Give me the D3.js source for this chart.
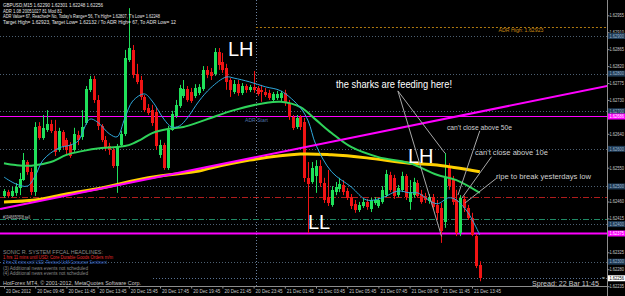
<!DOCTYPE html>
<html>
<head>
<meta charset="utf-8">
<script src="https://cdnjs.cloudflare.com/ajax/libs/d3/7.8.5/d3.min.js"></script>
<style>
body { margin: 0; background: #000; }
svg { display: block; font-family: "Liberation Sans", Arial, sans-serif; }
</style>
</head>
<body>
<div id="chart-container"></div>
<script>

// GBPUSD M15, one candle per bar index (0 = 20 Dec 07:45)
var opens = [
    1.62475,1.62485,1.62475,1.62483,1.62496,1.62517,1.62565,1.62539,1.62485,1.62661,
    1.62629,1.62650,1.62666,1.62648,1.62597,1.62645,1.62624,1.62610,1.62597,1.62637,
    1.62632,1.62669,1.62757,1.62786,1.62730,1.62661,1.62624,1.62608,1.62597,1.62555,
    1.62610,1.62640,1.62836,1.62863,1.62799,1.62783,1.62738,1.62709,1.62703,1.62698,
    1.62584,1.62610,1.62549,1.62650,1.62687,1.62714,1.62741,1.62759,1.62751,1.62741,
    1.62749,1.62759,1.62810,1.62804,1.62799,1.62858,1.62831,1.62815,1.62783,1.62751,
    1.62772,1.62749,1.62767,1.62757,1.62765,1.62762,1.62757,1.62751,1.62749,1.62730,
    1.62735,1.62735,1.62749,1.62722,1.62685,1.62658,1.62685,1.62671,1.62523,1.62512,
    1.62528,1.62555,1.62509,1.62472,1.62451,1.62485,1.62493,1.62504,1.62488,1.62472,
    1.62454,1.62438,1.62448,1.62459,1.62440,1.62456,1.62448,1.62459,1.62477,1.62531,
    1.62523,1.62477,1.62491,1.62528,1.62459,1.62477,1.62509,1.62480,1.62475,1.62462,
    1.62472,1.62451,1.62443,1.62406,1.62552,1.62517,1.62464,1.62376,1.62467,1.62443,
    1.62417,1.62368,1.62290
];
var highs = [
    1.62493,1.62491,1.62499,1.62509,1.62536,1.62589,1.62570,1.62549,1.62671,1.62671,
    1.62690,1.62703,1.62677,1.62677,1.62656,1.62650,1.62629,1.62618,1.62656,1.62648,
    1.62703,1.62767,1.62794,1.62794,1.62743,1.62666,1.62634,1.62616,1.62602,1.62613,
    1.62648,1.62863,1.62974,1.62876,1.62826,1.62794,1.62743,1.62719,1.62717,1.62709,
    1.62624,1.62616,1.62661,1.62701,1.62730,1.62770,1.62783,1.62767,1.62762,1.62772,
    1.62772,1.62820,1.62820,1.62815,1.62868,1.62868,1.62855,1.62826,1.62788,1.62783,
    1.62783,1.62775,1.62772,1.62770,1.62807,1.62767,1.62770,1.62762,1.62757,1.62751,
    1.62754,1.62754,1.62757,1.62730,1.62690,1.62690,1.62690,1.62682,1.62565,1.62565,
    1.62570,1.62570,1.62523,1.62544,1.62501,1.62512,1.62523,1.62517,1.62496,1.62480,
    1.62464,1.62459,1.62467,1.62467,1.62470,1.62472,1.62470,1.62501,1.62544,1.62539,
    1.62531,1.62504,1.62539,1.62533,1.62517,1.62523,1.62517,1.62491,1.62483,1.62480,
    1.62480,1.62464,1.62456,1.62589,1.62562,1.62528,1.62491,1.62477,1.62475,1.62451,
    1.62430,1.62374,1.62301
];
var lows = [
    1.62470,1.62472,1.62472,1.62475,1.62477,1.62515,1.62531,1.62477,1.62475,1.62624,
    1.62624,1.62645,1.62642,1.62581,1.62592,1.62600,1.62584,1.62576,1.62592,1.62610,
    1.62624,1.62664,1.62751,1.62722,1.62650,1.62618,1.62594,1.62584,1.62549,1.62483,
    1.62605,1.62634,1.62831,1.62788,1.62772,1.62730,1.62698,1.62690,1.62661,1.62597,
    1.62576,1.62544,1.62544,1.62648,1.62682,1.62709,1.62735,1.62725,1.62722,1.62735,
    1.62743,1.62754,1.62788,1.62783,1.62794,1.62810,1.62802,1.62757,1.62738,1.62746,
    1.62741,1.62743,1.62749,1.62751,1.62749,1.62741,1.62725,1.62738,1.62730,1.62725,
    1.62730,1.62727,1.62714,1.62677,1.62650,1.62653,1.62650,1.62512,1.62376,1.62507,
    1.62483,1.62499,1.62456,1.62448,1.62446,1.62477,1.62485,1.62477,1.62464,1.62440,
    1.62430,1.62432,1.62443,1.62438,1.62432,1.62451,1.62443,1.62454,1.62472,1.62485,
    1.62467,1.62472,1.62485,1.62464,1.62438,1.62470,1.62470,1.62454,1.62456,1.62454,
    1.62438,1.62411,1.62350,1.62390,1.62491,1.62451,1.62368,1.62368,1.62432,1.62411,
    1.62368,1.62283,1.62248
];
var closes = [
    1.62488,1.62475,1.62488,1.62499,1.62520,1.62570,1.62539,1.62485,1.62658,1.62629,
    1.62656,1.62666,1.62648,1.62592,1.62648,1.62608,1.62597,1.62581,1.62640,1.62624,
    1.62658,1.62759,1.62786,1.62730,1.62661,1.62624,1.62602,1.62597,1.62555,1.62608,
    1.62640,1.62842,1.62868,1.62796,1.62778,1.62738,1.62703,1.62695,1.62669,1.62608,
    1.62610,1.62549,1.62650,1.62693,1.62717,1.62762,1.62759,1.62730,1.62727,1.62762,
    1.62765,1.62810,1.62796,1.62794,1.62858,1.62823,1.62810,1.62778,1.62757,1.62772,
    1.62749,1.62767,1.62757,1.62765,1.62757,1.62746,1.62751,1.62743,1.62735,1.62746,
    1.62746,1.62749,1.62722,1.62685,1.62656,1.62682,1.62658,1.62523,1.62507,1.62549,
    1.62555,1.62509,1.62464,1.62456,1.62491,1.62499,1.62507,1.62485,1.62470,1.62448,
    1.62438,1.62451,1.62459,1.62446,1.62464,1.62464,1.62464,1.62491,1.62533,1.62491,
    1.62475,1.62496,1.62528,1.62472,1.62485,1.62512,1.62475,1.62459,1.62464,1.62472,
    1.62446,1.62430,1.62382,1.62523,1.62501,1.62459,1.62376,1.62470,1.62443,1.62417,
    1.62371,1.62289,1.62256
];

// moving averages at some bars
var ema10Bars = [0,3,6,8,10,14,17,19,22,24,27,29,31,33,36,38,41,43,45,47,50,53,57,59,63,67,71,76,78,80,84,89,93,97,101,104,106,111,114,116,119,122];
var ema10Values = [1.62525,1.62507,1.62501,1.62528,1.62570,1.62602,1.62610,1.62621,1.62679,1.62671,
    1.62640,1.62632,1.62682,1.62727,1.62746,1.62727,1.62679,1.62658,1.62661,1.62682,
    1.62727,1.62762,1.62791,1.62788,1.62778,1.62765,1.62754,1.62709,1.62674,1.62610,
    1.62539,1.62499,1.62464,1.62470,1.62488,1.62483,1.62483,1.62454,1.62470,1.62464,
    1.62430,1.62371];
var ema50Bars = [0,3,7,12,16,20,25,29,32,35,38,42,46,50,53,59,67,71,76,80,84,89,96,104,111,116,122];
var ema50Values = [1.62562,1.62557,1.62555,1.62565,1.62584,1.62594,1.62602,1.62605,1.62610,1.62624,
    1.62642,1.62653,1.62658,1.62671,1.62682,1.62703,1.62722,1.62725,1.62711,1.62677,
    1.62642,1.62605,1.62578,1.62562,1.62531,1.62517,1.62483];
var slowBars = [0,8,16,25,37,50,53,63,76,84,93,104,111,122];
var slowValues = [1.62459,1.62464,1.62480,1.62496,1.62523,1.62541,1.62549,1.62570,1.62586,1.62584,1.62576,1.62562,1.62557,1.62539];

// levels and objects
var gridPrices = [1.629, 1.628, 1.627, 1.626, 1.625, 1.624, 1.623];
var magentaPrices = [1.62686, 1.62375];
var stopPrice = 1.62471;
var orderPrice = 1.62414;
var adrHigh = 1.62923;
var bidPrice = 1.62256;
var dayStartBar = 64.6;
var trendBars = [-1, 155];
var trendPrices = [1.62440, 1.62768];

var priceTicks = [1.62955,1.62910,1.62865,1.62820,1.62775,1.62730,1.62685,1.62640,1.62595,
    1.62550,1.62505,1.62460,1.62415,1.62370,1.62325,1.62280,1.62235];
var timeBars = [0,8,16,24,32,40,48,56,64,72,80,88,96,104,112,120];
var timeLabels = ["20 Dec 2012","20 Dec 09:45","20 Dec 11:45","20 Dec 13:45","20 Dec 15:45",
    "20 Dec 17:45","20 Dec 19:45","20 Dec 21:45","20 Dec 23:45","21 Dec 01:45","21 Dec 03:45",
    "21 Dec 05:45","21 Dec 07:45","21 Dec 09:45","21 Dec 11:45","21 Dec 13:45"];

var headerLines = [
    "GBPUSD,M15  1.62290 1.62301 1.62248 1.62256",
    "ADR 1.08 20051027 81 Mod 81",
    "ADR Value= 67, Reached= No, Today's Range= 56, T's High= 1.62807, T's Low= 1.62248",
    "Target High= 1.62923, Target Low= 1.62132 / To ADR High= 67, To ADR Low= 12"
];
var newsLines = [
    "SONIC R. SYSTEM  FFCAL HEADLINES:",
    "1 hrs 11 mins until USD: Core Durable Goods Orders m/m",
    "2 hrs 26 mins until USD: Revised UoM Consumer Sentiment",
    "(3)  Additional news events not scheduled",
    "(4)  Additional news events not scheduled"
];

// annotation pointers: [bar, price] -> [bar, price]
var pointers = [
    [[101, 1.62754], [112.2, 1.62367]],
    [[101, 1.62754], [113.1, 1.62588]],
    [[122, 1.62648], [116.4, 1.62477]],
    [[125, 1.62579], [117.4, 1.62469]],
    [[126.3, 1.62522], [118.2, 1.62456]]
];

var bull = "#1fe05a", bear = "#f01414";

var xScale = d3.scaleLinear().domain([0, 122]).range([4, 479.8]);
var yScale = d3.scaleLinear().domain([1.629, 1.623]).range([36, 261.7]);

var candles = opens.map(function (o, i) {
    return { index: i, open: o, high: highs[i], low: lows[i], close: closes[i] };
});

var svg = d3.select("#chart-container")
    .append("svg")
    .attr("width", 625)
    .attr("height", 296)
    .style("background-color", "#000");

svg.append("defs").append("clipPath")
    .attr("id", "plot-clip")
    .append("rect")
    .attr("x", 0).attr("y", 0)
    .attr("width", 607).attr("height", 286);

var plot = svg.append("g").attr("clip-path", "url(#plot-clip)");

var hLine = function (price, color, width, dash, x0) {
    plot.append("line")
        .attr("x1", x0 || 0)
        .attr("x2", 607)
        .attr("y1", Math.round(yScale(price)) + 0.5)
        .attr("y2", Math.round(yScale(price)) + 0.5)
        .style("stroke", color)
        .style("stroke-width", width)
        .style("stroke-dasharray", dash || null);
}

// grid / levels
gridPrices.forEach(function (p) {
    hLine(p, "#4d6072", 1, "1,2");
});
plot.append("line")
    .attr("x1", Math.round(xScale(dayStartBar)) + 0.5)
    .attr("x2", Math.round(xScale(dayStartBar)) + 0.5)
    .attr("y1", 0).attr("y2", 286)
    .style("stroke", "#6d83a0")
    .style("stroke-dasharray", "1,2");
hLine(adrHigh, "#b07a10", 1, "2,2", xScale(dayStartBar));
hLine(stopPrice, "#b01c1c", 1, "6,2,1,2");
hLine(orderPrice, "#1f8a66", 1, "6,2,1,2");
hLine(bidPrice, "#5a7396", 1, "1,2", 153);
hLine(magentaPrices[0], "#ff00ff", 1);
hLine(magentaPrices[1], "#ff00ff", 2);

// candles
plot.selectAll(".wick")
    .data(candles)
    .enter()
    .append("line")
    .attr("class", "wick")
    .attr("x1", function (d) { return Math.round(xScale(d.index)) + 0.5; })
    .attr("x2", function (d) { return Math.round(xScale(d.index)) + 0.5; })
    .attr("y1", function (d) { return yScale(d.high); })
    .attr("y2", function (d) { return yScale(d.low); })
    .style("stroke", function (d) { return d.close >= d.open ? bull : bear; })
    .style("stroke-width", 1);

plot.selectAll(".body")
    .data(candles)
    .enter()
    .append("rect")
    .attr("class", "body")
    .attr("x", function (d) { return Math.round(xScale(d.index)) - 1; })
    .attr("width", 3)
    .attr("y", function (d) { return yScale(Math.max(d.open, d.close)); })
    .attr("height", function (d) {
        return Math.max(1, Math.abs(yScale(d.open) - yScale(d.close)));
    })
    .attr("fill", function (d) { return d.close >= d.open ? bull : bear; })
    .style("shape-rendering", "crispEdges");

// moving averages
var maLine = d3.line()
    .x(function (d) { return xScale(d[0]); })
    .y(function (d) { return yScale(d[1]); })
    .curve(d3.curveCatmullRom.alpha(0.5));

var maSeries = [
    { bars: slowBars, values: slowValues, color: "#ffd000", width: 3 },
    { bars: ema50Bars, values: ema50Values, color: "#2fd35a", width: 2 },
    { bars: ema10Bars, values: ema10Values, color: "#2fa8dc", width: 1 }
];
maSeries.forEach(function (s) {
    plot.append("path")
        .datum(s.bars.map(function (b, i) { return [b, s.values[i]]; }))
        .attr("d", maLine)
        .style("fill", "none")
        .style("stroke", s.color)
        .style("stroke-width", s.width);
});

// trend line
plot.append("line")
    .attr("x1", xScale(trendBars[0])).attr("y1", yScale(trendPrices[0]))
    .attr("x2", xScale(trendBars[1])).attr("y2", yScale(trendPrices[1]))
    .style("stroke", "#ff00ff")
    .style("stroke-width", 2);

// pointer lines
plot.selectAll(".pointer")
    .data(pointers)
    .enter()
    .append("line")
    .attr("x1", function (d) { return xScale(d[0][0]); })
    .attr("y1", function (d) { return yScale(d[0][1]); })
    .attr("x2", function (d) { return xScale(d[1][0]); })
    .attr("y2", function (d) { return yScale(d[1][1]); })
    .style("stroke", "#a8a8a8")
    .style("stroke-width", 1);

var addText = function (g, txt, x, y, size, color, len, anchor) {
    var t = g.append("text")
        .attr("x", x).attr("y", y)
        .style("font-size", size + "px")
        .style("fill", color)
        .attr("text-anchor", anchor || "start")
        .text(txt);
    if (len) {
        t.attr("textLength", len).attr("lengthAdjust", "spacingAndGlyphs");
    }
    return t;
}

// big labels
addText(plot, "LH", 228, 56, 20, "#ffffff");
addText(plot, "LH", 408, 163, 20, "#ffffff");
addText(plot, "LL", 308, 229, 20, "#ffffff");
addText(plot, "the sharks are feeding here!", 336, 88, 10, "#ffffff", 116);
addText(plot, "can't close above 50e", 447, 129.5, 8, "#d0d0d0", 65);
addText(plot, "can't close above 10e", 475, 154.5, 8, "#d0d0d0", 73);
addText(plot, "ripe to break yesterdays low", 496, 179, 8, "#d0d0d0", 95);
addText(plot, "ADR High: 1.62923", 521, 32, 5, "#c88a14", 45, "middle");
addText(plot, "ADR Start", 256.5, 122, 4.8, "#4f72a8", 23, "middle");
addText(plot, "#1946650508 sell", 3, 218.5, 4.6, "#c8c8c8", 27);

// header
var headerLens = [100, 59, 157, 173];
headerLines.forEach(function (line, i) {
    addText(svg, line, 3, 7 + i * 5.5, 4.8, "#e6e6e6", headerLens[i]);
});

// news block
var newsColors = ["#8a8a8a", "#e02828", "#3c6fd0", "#8a8a8a", "#8a8a8a"];
var newsLens = [100, 110, 104, 85, 85];
newsLines.forEach(function (line, i) {
    addText(svg, line, 3, 253.5 + i * 5.4, 4.6, newsColors[i], newsLens[i]);
});
addText(svg, "HotForex MT4, \u00a9 2001-2012, MetaQuotes Software Corp.", 3, 285, 5.2, "#c8c8c8", 138);
addText(svg, "Spread: 22    Bar  11:45", 532, 286, 7.5, "#c8c8c8", 67);
addText(svg, "m", 602, 279, 3.5, "#c8c8c8");

// price axis, labels that sit under a boxed level are left out (the box covers them)
var boxedPrices = gridPrices.concat(magentaPrices, [bidPrice]);
var visibleTicks = priceTicks.filter(function (p) {
    return boxedPrices.every(function (b) {
        return Math.abs(yScale(p) - yScale(b)) > 3.5;
    });
});
var yAxis = d3.axisRight(yScale)
    .tickValues(visibleTicks)
    .tickFormat(d3.format(".5f"))
    .tickSize(2)
    .tickPadding(1);
var yAxisG = svg.append("g")
    .attr("transform", "translate(607.5,0)")
    .attr("font-family", null)
    .attr("font-size", null)
    .call(yAxis);
yAxisG.select(".domain").remove();
yAxisG.selectAll("line").style("stroke", "#909090");
yAxisG.selectAll("text")
    .attr("x", 2)
    .style("fill", "#c8c8c8")
    .style("font-size", "4.6px")
    .attr("textLength", 14.5)
    .attr("lengthAdjust", "spacingAndGlyphs");

// boxed labels on the price axis
var boxLabel = function (price, fill, color) {
    var y = yScale(price);
    svg.append("rect")
        .attr("x", 608).attr("y", y - 3)
        .attr("width", 17).attr("height", 6)
        .attr("fill", fill);
    svg.append("text")
        .attr("x", 609.5).attr("y", y + 1.7)
        .style("font-size", "4.6px")
        .style("fill", color)
        .attr("textLength", 14.5)
        .attr("lengthAdjust", "spacingAndGlyphs")
        .text(d3.format(".5f")(price));
}
gridPrices.forEach(function (p) {
    boxLabel(p, "#1e3a55", "#9fb6cc");
});
magentaPrices.forEach(function (p) {
    boxLabel(p, "#ff00ff", "#ffffff");
});
boxLabel(bidPrice, "#ffffff", "#000000");

// time axis
var xAxis = d3.axisBottom(xScale)
    .tickValues(timeBars)
    .tickFormat(function (d, i) { return timeLabels[i]; })
    .tickSize(2)
    .tickPadding(1);
var xAxisG = svg.append("g")
    .attr("transform", "translate(0,286.5)")
    .attr("font-family", null)
    .attr("font-size", null)
    .call(xAxis);
xAxisG.select(".domain").remove();
xAxisG.selectAll("line").style("stroke", "#909090");
xAxisG.selectAll("text")
    .attr("text-anchor", "start")
    .attr("x", 1.5)
    .style("fill", "#c8c8c8")
    .style("font-size", "4.6px")
    .attr("textLength", function (d, i) { return i === 0 ? 25 : 27; })
    .attr("lengthAdjust", "spacingAndGlyphs");

// frame
svg.append("line")
    .attr("x1", 607.5).attr("x2", 607.5)
    .attr("y1", 0).attr("y2", 296)
    .style("stroke", "#8c8c8c");
svg.append("line")
    .attr("x1", 0).attr("x2", 607.5)
    .attr("y1", 286.5).attr("y2", 286.5)
    .style("stroke", "#8c8c8c");

</script>
</body>
</html>
